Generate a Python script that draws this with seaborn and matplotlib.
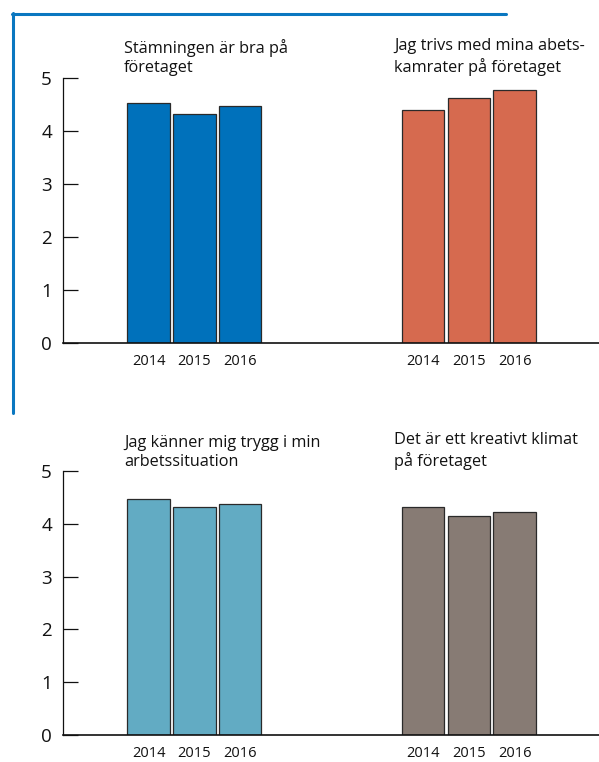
import matplotlib
matplotlib.use("Agg")
import matplotlib.pyplot as plt
from matplotlib.lines import Line2D
import seaborn as sns
import pandas as pd

# ---- data ----
years = ["2014", "2015", "2016"]
titles_top = ["Stämningen är bra på\nföretaget",
              "Jag trivs med mina abets-\nkamrater på företaget"]
titles_bottom = ["Jag känner mig trygg i min\narbetssituation",
                 "Det är ett kreativt klimat\npå företaget"]
stamning = [4.52, 4.33, 4.47]
trivs = [4.39, 4.63, 4.78]
trygg = [4.47, 4.32, 4.37]
kreativt = [4.31, 4.15, 4.22]
yticks = [0, 1, 2, 3, 4, 5]

colors_top = ["#0071bb", "#d66a4f"]
colors_bottom = ["#62abc3", "#877b74"]

sns.set_theme(style="white")
plt.rcParams["font.family"] = ["Open Sans", "DejaVu Sans"]

W, H = 599, 762
fig = plt.figure(figsize=(W / 100, H / 100), dpi=100)

GROUP_OFFSET = 6
slot_px = 45.75
first_center_px = 148.7
ax_left_px, ax_right_px = 63, 599


def make_df(series_list, titles):
    rows = []
    for g, (vals, t) in enumerate(zip(series_list, titles)):
        for i, (y, v) in enumerate(zip(years, vals)):
            rows.append({"question": t, "year": y, "value": v,
                         "pos": g * GROUP_OFFSET + i})
    return pd.DataFrame(rows)


def draw_row(ax_top_px, ax_bot_px, series_list, titles, colors, title_base_px):
    ax = fig.add_axes([ax_left_px / W, 1 - ax_bot_px / H,
                       (ax_right_px - ax_left_px) / W,
                       (ax_bot_px - ax_top_px) / H])
    df = make_df(series_list, titles)
    sns.barplot(data=df, x="pos", y="value", hue="question",
                palette=colors, native_scale=True, dodge=False,
                saturation=1, width=0.93, edgecolor="#2a2a2a", linewidth=0.9,
                legend=False, ax=ax)
    ax.set_ylim(0, 5)
    ax.set_xlim((ax_left_px - first_center_px) / slot_px,
                (ax_right_px - first_center_px) / slot_px)
    ax.set_yticks(yticks)
    ax.set_yticklabels([str(t) for t in yticks], fontsize=13.5, color="#111111")
    ax.tick_params(axis="y", direction="in", length=10.8, width=0.9,
                   color="#111111", pad=8, left=True)
    positions = sorted(df["pos"].unique())
    ax.set_xticks(positions)
    ax.set_xticklabels(list(df.sort_values("pos")["year"]), fontsize=10.5,
                       color="#111111")
    ax.tick_params(axis="x", length=0, pad=8)
    ax.set_xlabel("")
    ax.set_ylabel("")
    for s in ["top", "right"]:
        ax.spines[s].set_visible(False)
    ax.spines["left"].set_color("#111111")
    ax.spines["left"].set_linewidth(0.9)
    ax.spines["bottom"].set_color("#111111")
    ax.spines["bottom"].set_linewidth(1.2)
    ax.grid(False)
    ax.set_facecolor("none")
    for t, xpx in zip(titles, [124, 394.5]):
        fig.text(xpx / W, 1 - title_base_px / H, t, fontsize=11.7,
                 color="#111111", ha="left", va="baseline", linespacing=1.3)
    return ax


draw_row(78, 343, [stamning, trivs], titles_top, colors_top, 72.5)
draw_row(471, 735, [trygg, kreativt], titles_bottom, colors_bottom, 466.5)

# blue frame around the top panel
frame_c = "#0a77c0"
fig.add_artist(Line2D([12 / W, 505.7 / W], [1 - 13.8 / H, 1 - 13.8 / H],
                      color=frame_c, linewidth=2.2, transform=fig.transFigure))
fig.add_artist(Line2D([13.4 / W, 13.4 / W], [1 - 12.7 / H, 1 - 412.7 / H],
                      color=frame_c, linewidth=2.2, transform=fig.transFigure))

fig.savefig("out.png", dpi=100, facecolor="white")
